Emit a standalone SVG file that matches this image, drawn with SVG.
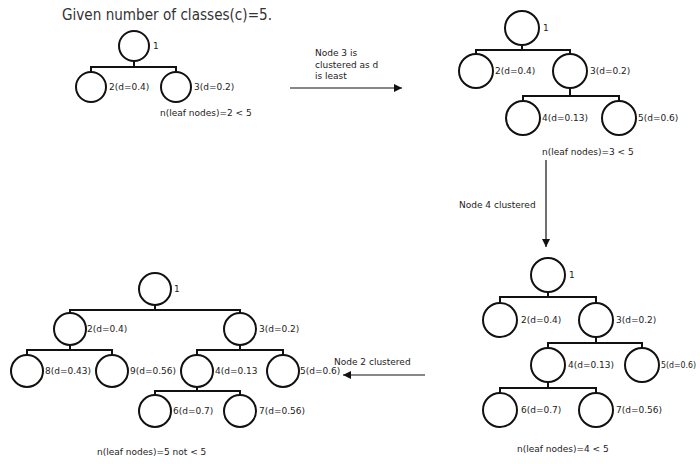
<svg xmlns="http://www.w3.org/2000/svg" width="700" height="464" viewBox="0 0 700 464">
<defs>
<style>
.n{fill:#fff;stroke:#111;stroke-width:2}
.c{fill:none;stroke:#111;stroke-width:2}
.a{fill:none;stroke:#111;stroke-width:1.2}
text{font-family:"DejaVu Sans",Verdana,sans-serif;font-size:9px;fill:#222}
.t{font-size:16.5px;fill:#333}
</style>
<marker id="ah" viewBox="0 0 10 10" refX="10" refY="5" markerWidth="8" markerHeight="8" markerUnits="userSpaceOnUse" orient="auto">
<path d="M0,0 L10,5 L0,10 z" fill="#111"/>
</marker>
</defs>
<rect width="700" height="464" fill="#fff"/>
<text class="t" x="62" y="20" textLength="210" lengthAdjust="spacingAndGlyphs">Given number of classes(c)=5.</text>

<g id="connectors">
<path class="c" d="M134,61 V67 M91,72 V67 H176 V72"/>
<path class="c" d="M522,45 V50 M476,54 V50 H570 V54 M570,88 V96 M523,101 V96 H619 V101"/>
<path class="c" d="M548,292 V297 M500,303 V297 H596 V303 M596,337 V343 M548,348 V343 H642 V348 M548,382 V388 M500,393 V388 H596 V393"/>
<path class="c" d="M155,305 V310 M70,313 V310 H240 V313 M70,345 V350 M27,355 V350 H112 V355 M240,345 V350 M197,355 V350 H283 V355 M197,387 V391 M155,395 V391 H240 V395"/>
<line class="a" x1="290" y1="88" x2="402" y2="88" marker-end="url(#ah)"/>
<line class="a" x1="546" y1="160" x2="546" y2="247" marker-end="url(#ah)"/>
<line class="a" x1="425" y1="375" x2="343" y2="375" marker-end="url(#ah)"/>
</g>

<g id="arrow-labels">
<text x="315" y="56">Node 3 is</text>
<text x="315" y="68">clustered as d</text>
<text x="315" y="79">is least</text>
<text x="459" y="208">Node 4 clustered</text>
<text x="334" y="365">Node 2 clustered</text>
</g>

<g id="A1"><circle class="n" cx="134" cy="46" r="15"/><text x="153" y="49">1</text></g>
<g id="A2"><circle class="n" cx="91" cy="87" r="15"/><text x="109" y="90">2(d=0.4)</text></g>
<g id="A3"><circle class="n" cx="176" cy="87" r="15"/><text x="194" y="90">3(d=0.2)</text></g>
<text x="160" y="116">n(leaf nodes)=2 &lt; 5</text>

<g id="B1"><circle class="n" cx="522" cy="28" r="17"/><text x="543" y="31">1</text></g>
<g id="B2"><circle class="n" cx="476" cy="71" r="17"/><text x="495" y="74">2(d=0.4)</text></g>
<g id="B3"><circle class="n" cx="570" cy="71" r="17"/><text x="590" y="74">3(d=0.2)</text></g>
<g id="B4"><circle class="n" cx="523" cy="118" r="17"/><text x="542" y="121">4(d=0.13)</text></g>
<g id="B5"><circle class="n" cx="619" cy="118" r="17"/><text x="638" y="121">5(d=0.6)</text></g>
<text x="542" y="155">n(leaf nodes)=3 &lt; 5</text>

<g id="C1"><circle class="n" cx="548" cy="275" r="17"/><text x="569" y="278">1</text></g>
<g id="C2"><circle class="n" cx="500" cy="320" r="17"/><text x="521" y="323">2(d=0.4)</text></g>
<g id="C3"><circle class="n" cx="596" cy="320" r="17"/><text x="616" y="323">3(d=0.2)</text></g>
<g id="C4"><circle class="n" cx="548" cy="365" r="17"/><text x="568" y="368">4(d=0.13)</text></g>
<g id="C5"><circle class="n" cx="642" cy="365" r="17"/><text x="661" y="368" textLength="35" lengthAdjust="spacingAndGlyphs">5(d=0.6)</text></g>
<g id="C6"><circle class="n" cx="500" cy="410" r="17"/><text x="521" y="413">6(d=0.7)</text></g>
<g id="C7"><circle class="n" cx="596" cy="410" r="17"/><text x="616" y="413">7(d=0.56)</text></g>
<text x="517" y="452">n(leaf nodes)=4 &lt; 5</text>

<g id="D1"><circle class="n" cx="155" cy="289" r="16"/><text x="174" y="292">1</text></g>
<g id="D2"><circle class="n" cx="70" cy="329" r="16"/><text x="87" y="332">2(d=0.4)</text></g>
<g id="D3"><circle class="n" cx="240" cy="329" r="16"/><text x="259" y="332">3(d=0.2)</text></g>
<g id="D8"><circle class="n" cx="27" cy="371" r="16"/><text x="45" y="374">8(d=0.43)</text></g>
<g id="D9"><circle class="n" cx="112" cy="371" r="16"/><text x="130" y="374">9(d=0.56)</text></g>
<g id="D4"><circle class="n" cx="197" cy="371" r="16"/><text x="215" y="374">4(d=0.13</text></g>
<g id="D5"><circle class="n" cx="283" cy="371" r="16"/><text x="300" y="374">5(d=0.6)</text></g>
<g id="D6"><circle class="n" cx="155" cy="411" r="16"/><text x="173" y="414">6(d=0.7)</text></g>
<g id="D7"><circle class="n" cx="240" cy="411" r="16"/><text x="259" y="414">7(d=0.56)</text></g>
<text x="97" y="455">n(leaf nodes)=5 not &lt; 5</text>
</svg>
